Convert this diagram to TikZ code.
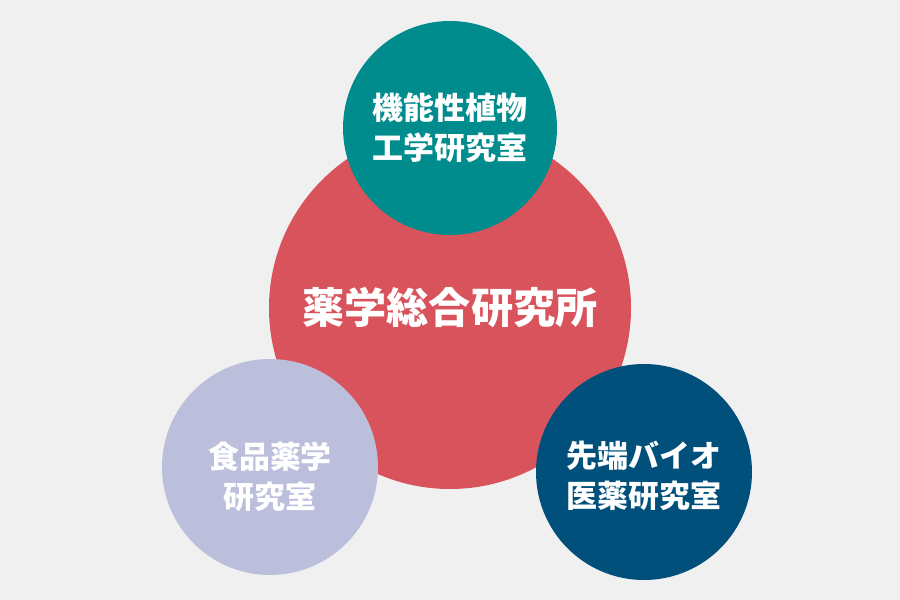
\documentclass[tikz,border=0pt]{standalone}
\usepackage{fontspec}
\usepackage{tikz}
\setmainfont{Noto Sans CJK JP Black}
\definecolor{bggray}{HTML}{F0F0F0}
\definecolor{centerred}{HTML}{D9535C}
\definecolor{plantteal}{HTML}{008C8D}
\definecolor{foodlilac}{HTML}{BBBFDC}
\definecolor{bioblue}{HTML}{00507B}

\begin{document}
\begin{tikzpicture}[
    lab/.style={circle, inner sep=0pt, text=white, align=center, font=\fontsize{17.6}{22.7}\selectfont},
    hub/.style={circle, inner sep=0pt, text=white, fill=centerred, minimum size=7.24cm, font=\fontsize{24}{28}\selectfont}
]
    \fill[bggray] (0,0) rectangle (18,12);
    \useasboundingbox (0,0) rectangle (18,12);

    \node[hub] (institute) at (9,5.84) {薬学総合研究所};

    \node[lab, fill=plantteal, minimum size=4.28cm] (plant) at (9,9.44) {機能性植物\\工学研究室};
    \node[lab, fill=foodlilac, minimum size=4.32cm] (food) at (5.4,2.66) {};
    \node[lab, fill=bioblue, minimum size=4.32cm] (bio) at (12.88,2.56) {};

    \node[lab] (foodtext) at ([yshift=-0.2cm]food.center) {食品薬学\\研究室};
    \node[lab] (biotext) at ([yshift=-0.08cm]bio.center) {先端バイオ\\医薬研究室};
\end{tikzpicture}
\end{document}
